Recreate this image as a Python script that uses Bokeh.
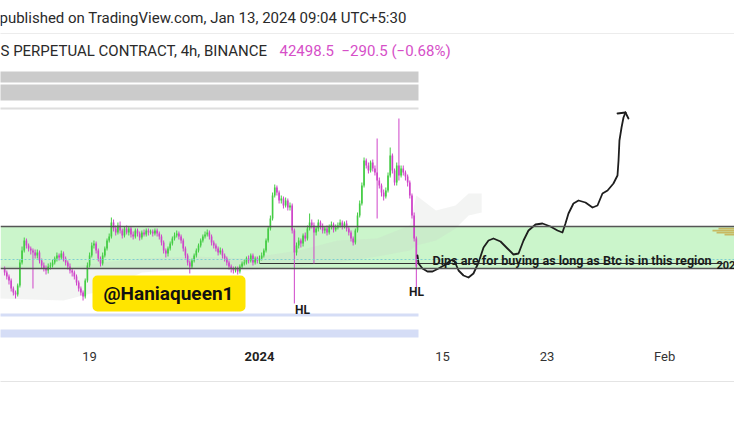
import pandas as pd
from bokeh.plotting import figure
from bokeh.models import (ColumnDataSource, FixedTicker, Label, BoxAnnotation, Span,
                          DatetimeAxis)
from bokeh.embed import file_html
from bokeh.resources import INLINE

# ---------------- data (BTCUSDT perpetual, 4h candles from 2023-12-12 12:00) ----------------
first_candle = "2023-12-12 12:00"
open0 = 42420
close = [
    42260, 42100, 41940,
    41620, 41460, 41380, 41740, 42660, 43140,
    43540, 43340, 43220, 43140, 43060, 42940,
    43060, 42740, 42540, 42420, 42340, 42500,
    42540, 42660, 42820, 42940, 42860, 43020,
    42820, 42660, 42500, 42340, 42260, 42100,
    41860, 41620, 41460, 41300, 41940, 42540,
    42940, 43340, 43420, 43140, 42820, 42620,
    42940, 43220, 43540, 43700, 44260, 44020,
    43860, 44140, 43940, 43740, 44020, 43860,
    44020, 43780, 43700, 43940, 43820, 43660,
    43860, 43780, 43940, 43860, 43900, 43820,
    43940, 43820, 43700, 43460, 43140, 43020,
    43220, 43420, 43620, 43740, 43820, 43700,
    43540, 43220, 42940, 42660, 42500, 42740,
    42940, 43140, 43340, 43540, 43700, 43780,
    43860, 43700, 43460, 43340, 43220, 43060,
    43140, 42940, 42820, 42660, 42500, 42420,
    42340, 42420, 42300, 42500, 42620, 42660,
    42820, 42740, 42940, 42660, 42820, 42740,
    42820, 42940, 43140, 43540, 44020, 44420,
    45340, 45660, 45460, 45140, 45220, 44940,
    45140, 44860, 44940, 43940, 43060, 43340,
    43540, 43420, 43740, 43620, 44020, 44260,
    44140, 43860, 44020, 44260, 44100, 43940,
    44020, 43860, 44100, 44180, 43980, 44060,
    44140, 44260, 44100, 44220, 44020, 43860,
    43620, 43460, 43940, 44540, 45020, 45740,
    46740, 46540, 46340, 46660, 46420, 46260,
    45940, 45740, 45460, 45300, 45540, 46140,
    46940, 46340, 45860, 46540, 46140, 46420,
    46260, 46100, 45860, 45340, 44540, 43620,
    42498.5,
]
high = [
    42500, 42340, 42180,
    42020, 41700, 41540, 41820, 42780, 43300,
    43660, 43620, 43420, 43300, 43220, 43180,
    43180, 43140, 42820, 42660, 42540, 42620,
    42660, 42780, 42900, 43060, 43020, 43140,
    43100, 42900, 42740, 42620, 42420, 42340,
    42180, 41940, 41700, 41540, 42020, 42660,
    43060, 43460, 43540, 43500, 43220, 42900,
    43060, 43300, 43620, 43820, 44460, 44380,
    44140, 44260, 44300, 44020, 44100, 44140,
    44100, 44100, 43900, 44020, 44020, 43900,
    43940, 43980, 44020, 44020, 43980, 43980,
    44020, 44020, 43900, 43780, 43540, 43220,
    43300, 43500, 43700, 43860, 43940, 43900,
    43780, 43620, 43300, 43020, 42740, 42820,
    43020, 43220, 43420, 43620, 43780, 43900,
    43980, 43940, 43780, 43540, 43420, 43300,
    43260, 43220, 43020, 42900, 42740, 42580,
    42500, 42500, 42500, 42580, 42700, 42780,
    42900, 42940, 43020, 43020, 42900, 42900,
    42940, 43060, 43220, 43620, 44100, 44540,
    45460, 45780, 45740, 45540, 45340, 45300,
    45260, 45220, 45060, 45020, 44020, 43460,
    43660, 43620, 43820, 43860, 44140, 44620,
    44380, 44260, 44100, 44380, 44340, 44220,
    44100, 44140, 44180, 44300, 44260, 44180,
    44260, 44380, 44340, 44300, 44340, 44100,
    43940, 43700, 44020, 44660, 45140, 45860,
    46860, 46820, 46660, 46740, 46780, 46540,
    47620, 46060, 45820, 45580, 45660, 46260,
    47260, 47020, 46420, 46660, 48420, 46540,
    46540, 46340, 46180, 45940, 45420, 44660,
    43700,
]
low = [
    42140, 41980, 41780,
    41500, 41340, 41220, 41300, 41660, 42580,
    43060, 43220, 43100, 42980, 41620, 42820,
    42820, 42620, 42420, 42300, 42180, 42220,
    42380, 42460, 42580, 42700, 42740, 42780,
    42700, 42540, 42380, 42220, 42100, 41980,
    41740, 41500, 41340, 41140, 41220, 41860,
    42460, 42860, 43220, 43020, 42700, 42500,
    42540, 42860, 43140, 43460, 43620, 43900,
    43740, 43780, 43820, 43620, 43660, 43780,
    43740, 43660, 43580, 43620, 43700, 43540,
    43580, 43700, 43700, 43740, 43780, 43700,
    43740, 43700, 43580, 43340, 43020, 42860,
    42900, 43140, 43340, 43540, 43660, 43580,
    43420, 43100, 42820, 42540, 42220, 42420,
    42660, 42860, 43060, 43260, 43460, 43620,
    43700, 43580, 43340, 43220, 43100, 42940,
    42980, 42820, 42700, 42540, 42380, 42260,
    42220, 42260, 42180, 42220, 42420, 42540,
    42580, 42620, 42660, 42540, 42580, 42620,
    42620, 42740, 42860, 43060, 43460, 43940,
    44340, 45260, 45340, 45020, 45020, 44820,
    44860, 44740, 44740, 43820, 41020, 42940,
    43220, 43260, 43300, 43500, 43540, 43940,
    44020, 42620, 43740, 43900, 43980, 43820,
    43820, 43740, 43780, 43980, 43860, 43900,
    43980, 44060, 43980, 44020, 43900, 43740,
    43500, 43340, 43380, 43860, 44460, 44940,
    45660, 46420, 46220, 46260, 46300, 46140,
    44420, 45620, 45300, 45140, 45220, 45460,
    46060, 46220, 45740, 45740, 45940, 46060,
    46140, 45940, 45700, 45220, 44420, 43500,
    41660,
]

# drawn support region and lines (prices)
zone_top = 44100
zone_bottom = 42420
dotted_level = 42780
underline_level = 42620
underline_from_day, underline_to_day = 0.0, 35.5

# ichimoku-like cloud (days from 2024-01-01, prices)
cloud_day = [-19.9, -15, -12, -9, -5, -1, 3, 6, 9, 11.5, 12, 13.5, 15, 16, 17]
cloud_top = [42540, 42420, 42660, 42820, 42900, 42820, 43140, 43540, 43620, 44140, 45340, 44740, 44940, 45420, 45420]
cloud_bot = [41220, 41140, 41540, 42260, 42420, 42340, 42500, 42660, 42900, 43140, 43340, 43540, 44020, 44540, 44660]

# hand-drawn projection (days from 2024-01-01, prices)
arrow_day = [12.09, 12.17, 12.47, 12.85, 13.24, 13.70, 14.23, 14.61, 14.84, 15.00, 15.23,
             15.61, 15.99, 16.37, 16.76, 17.14, 17.52, 17.90, 18.44, 18.97, 19.43, 19.82,
             20.20, 20.58, 21.12, 21.65, 22.26, 22.80, 23.18, 23.41, 23.64, 24.02, 24.41,
             24.94, 25.48, 25.86, 26.24, 26.63, 27.08, 27.39, 27.47, 27.54, 27.70, 27.85,
             28.00]
arrow_price = [42940, 42620, 42420, 42300, 42300, 42420, 42580, 42740, 42780, 42620, 42340,
               42140, 42060, 42220, 42660, 43260, 43540, 43620, 43500, 43220, 42980, 43020,
               43540, 43940, 44180, 44220, 44100, 43940, 43860, 44220, 44620, 45020, 45140,
               45060, 44860, 44940, 45420, 45540, 45820, 46140, 46740, 47540, 48060, 48460,
               48660]
head_day = [27.39, 28.23]
head_price = [48620, 48420]

# volume profile slivers at right edge
vp_price = [44020, 43940, 43860, 43780, 43140, 43020, 42900]
vp_start_day = [35.12, 34.66, 34.97, 35.58, 36.65, 36.34, 36.80]

tick_dates = ["2023-12-19", "2024-01-01", "2024-01-15", "2024-01-23", "2024-02-01"]
tick_labels = ["19", "2024", "15", "23", "Feb"]

header1 = "published on TradingView.com, Jan 13, 2024 09:04 UTC+5:30"
header2 = "S PERPETUAL CONTRACT, 4h, BINANCE"
last_price = "42498.5"
last_change = "\u2212290.5 (\u22120.68%)"

# ---------------- helpers ----------------
DAY = 86400000
JAN1 = pd.Timestamp("2024-01-01").value // 10**6
PX_PER_DAY = 13.07

def X(px):
    return JAN1 + (px - 259) / PX_PER_DAY * DAY

def Y(py):
    return 53140 - 40 * py

def D(day):
    return JAN1 + day * DAY

UP = "#44cc44"
DOWN = "#cf45c9"

times = pd.date_range(first_candle, periods=len(close), freq="4h")
t_ms = [int(v) for v in (times.asi8 // 10**6)]
opens = [open0] + close[:-1]
hi = [max(h, o, c) for h, o, c in zip(high, opens, close)]
lo = [min(l, o, c) for l, o, c in zip(low, opens, close)]
colors = [UP if c >= o else DOWN for o, c in zip(opens, close)]
src = ColumnDataSource(dict(
    t=t_ms, o=opens, c=close, h=hi, l=lo,
    top=[max(o, c) for o, c in zip(opens, close)],
    bot=[min(o, c) for o, c in zip(opens, close)],
    color=colors,
))

p = figure(width=734, height=405, x_axis_type="datetime", y_axis_location=None,
           output_backend="svg", toolbar_location=None,
           x_range=(X(0), X(734)), y_range=(Y(340), Y(0)),
           min_border_left=0, min_border_right=0, min_border_top=0, min_border_bottom=65)
p.outline_line_color = None
p.grid.visible = False
p.background_fill_color = "white"
p.border_fill_color = "white"

# support zone
p.add_layout(BoxAnnotation(bottom=zone_bottom, top=zone_top, fill_color="#cbf5cb",
                           fill_alpha=1, line_color=None, level="underlay"))

# cloud
p.varea(x=[D(d) for d in cloud_day], y1=cloud_bot, y2=cloud_top,
        fill_color="#c9cec9", fill_alpha=0.22)

p.add_layout(Span(location=zone_top, dimension="width", line_color="#555555", line_width=1.3))
p.add_layout(Span(location=zone_bottom, dimension="width", line_color="#555555", line_width=1.3))
p.add_layout(Span(location=dotted_level, dimension="width", line_color="#7fcfd0",
                  line_width=1, line_dash="2 2"))
p.line(x=[D(underline_from_day), D(underline_to_day)], y=[underline_level, underline_level],
       line_color="#333333", line_width=1.2)

# volume profile slivers
p.quad(left=[D(d) for d in vp_start_day], right=[X(760)] * len(vp_price),
       top=[v + 35 for v in vp_price], bottom=[v - 35 for v in vp_price],
       fill_color="#c8b357", line_color=None, fill_alpha=0.9)

# candles
p.segment(x0="t", x1="t", y0="l", y1="h", line_color="color", line_width=1, source=src)
p.vbar(x="t", width=4 * 3600 * 1000 * 0.75, top="top", bottom="bot",
       fill_color="color", line_color=None, source=src)

# hand drawn projection
p.line(x=[D(d) for d in arrow_day], y=arrow_price, line_color="#1e1e1e", line_width=1.8,
       line_join="round", line_cap="round")
for hd, hp in zip(head_day, head_price):
    p.line(x=[D(arrow_day[-1]), D(hd)], y=[arrow_price[-1], hp], line_color="#1e1e1e",
           line_width=1.8, line_cap="round")

# header decorations
def band(top_px, bot_px, right_px, color):
    p.add_layout(BoxAnnotation(left=X(-5), right=X(right_px), top=Y(top_px), bottom=Y(bot_px),
                               fill_color=color, fill_alpha=1, line_color=None))

band(71, 82, 418, "#cbcbcb")
band(84, 100, 418, "#cbcbcb")
band(107, 109, 418, "#dedede")
band(32.5, 33.5, 760, "#ececec")
band(313, 316, 418, "#d5ddf6")
band(329, 337, 418, "#d5ddf6")

F = "Roboto"
p.add_layout(Label(x=X(-1), y=Y(17), text=header1, text_font=F, text_font_size="15px",
                   text_color="#2a2a2a", text_baseline="middle"))
p.add_layout(Label(x=X(0), y=Y(50), text=header2, text_font=F, text_font_size="15px",
                   text_color="#2a2a2a", text_baseline="middle"))
p.add_layout(Label(x=X(279), y=Y(50), text=last_price, text_font=F, text_font_size="15px",
                   text_color="#d64fc8", text_baseline="middle"))
p.add_layout(Label(x=X(341), y=Y(50), text=last_change, text_font=F, text_font_size="15px",
                   text_color="#d64fc8", text_baseline="middle"))

# yellow handle tag
p.add_layout(BoxAnnotation(left=X(92), right=X(245), top=Y(275), bottom=Y(311),
                           fill_color="#ffe500", fill_alpha=1, line_color=None,
                           border_radius=5))
p.add_layout(Label(x=X(168), y=Y(293), text="@Haniaqueen1", text_font=F, text_font_size="19px",
                   text_font_style="bold", text_color="#111111", text_align="center",
                   text_baseline="middle"))

p.add_layout(Label(x=X(302), y=Y(309), text="HL", text_font=F, text_font_size="12px",
                   text_font_style="bold", text_color="#1a1a1a", text_align="center",
                   text_baseline="middle"))
p.add_layout(Label(x=X(416), y=Y(291), text="HL", text_font=F, text_font_size="12px",
                   text_font_style="bold", text_color="#1a1a1a", text_align="center",
                   text_baseline="middle"))
p.add_layout(Label(x=X(432), y=Y(260), text="Dips are for buying as long as Btc is in this region",
                   text_font=F, text_font_size="12.6px", text_font_style="bold",
                   text_color="#1c1c1c", text_baseline="alphabetic"))
p.add_layout(Label(x=X(716), y=Y(264), text="202", text_font=F, text_font_size="11px",
                   text_font_style="bold", text_color="#1c1c1c", text_baseline="middle"))

# time axis
tick_ms = [int(pd.Timestamp(d).value // 10**6) for d in tick_dates]
year_tick = tick_ms[1]
p.xaxis.ticker = FixedTicker(ticks=[t for t in tick_ms if t != year_tick])
p.xaxis.major_label_overrides = {t: lab for t, lab in zip(tick_ms, tick_labels) if t != year_tick}

ax2 = DatetimeAxis(ticker=FixedTicker(ticks=[year_tick]),
                   major_label_overrides={year_tick: tick_labels[1]})
p.add_layout(ax2, "below")

for ax in (p.xaxis[0], ax2):
    ax.axis_line_color = None
    ax.major_tick_line_color = None
    ax.minor_tick_line_color = None
    ax.major_tick_out = 0
    ax.major_tick_in = 0
    ax.minor_tick_out = 0
    ax.minor_tick_in = 0
    ax.major_label_text_font = F
    ax.major_label_text_font_size = "13px"
p.xaxis[0].major_label_standoff = 8
p.xaxis[0].major_label_text_color = "#333333"
ax2.major_label_standoff = -15
ax2.major_label_text_font_style = "bold"
ax2.major_label_text_color = "#222222"
ax2.axis_label = "\u00a0"
ax2.axis_label_standoff = 0
ax2.axis_label_text_font_size = "13px"

# bottom border of the time scale
ax3 = DatetimeAxis(ticker=FixedTicker(ticks=[]), axis_line_color="#e4e4e4", axis_line_width=1,
                   major_tick_line_color=None, minor_tick_line_color=None,
                   major_tick_out=0, minor_tick_out=0, major_label_text_font_size="1px")
p.add_layout(ax3, "below")

open("out.html", "w").write(file_html(p, INLINE))
